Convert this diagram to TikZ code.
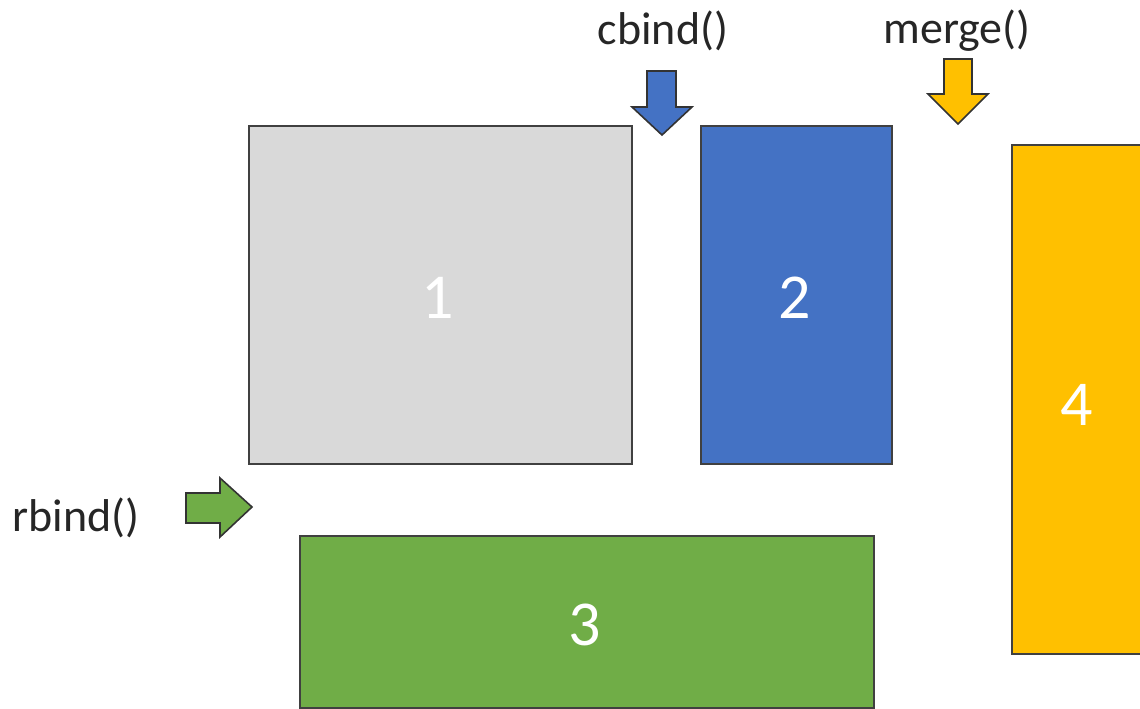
\documentclass[tikz,border=0pt]{standalone}
\usepackage{fontspec}
\setmainfont{Carlito}
\begin{document}
\begin{tikzpicture}[x=1pt,y=-1pt,
  block/.style={draw=black!75,line width=2pt,anchor=north west,inner sep=0pt},
  num/.style={text=white,font=\fontsize{64}{70}\selectfont},
  fn/.style={font=\fontsize{46}{52}\selectfont,text=black!85},
  arrowshape/.style={draw=black!80,line width=1.6pt,line join=miter}]
\clip (0,0) rectangle (1140,709);
\useasboundingbox (0,0) rectangle (1140,709);

% data blocks
\node[block,fill={rgb,255:red,217;green,217;blue,217},minimum width=383pt,minimum height=338pt] (b1) at (248,125) {};
\node[block,fill={rgb,255:red,68;green,114;blue,196},minimum width=191pt,minimum height=338pt] (b2) at (700,125) {};
\node[block,fill={rgb,255:red,112;green,173;blue,71},minimum width=574pt,minimum height=172pt] (b3) at (299,535) {};
\node[block,fill={rgb,255:red,255;green,192;blue,0},minimum width=160pt,minimum height=509pt] (b4) at (1011,144) {};

\node[num] (n1) at (438,298) {1};
\node[num] (n2) at (795,298) {2};
\node[num] (n3) at (585,625) {3};
\node[num] (n4) at (1077,405) {4};

% function labels
\node[fn] (cb) at (663,31) {cbind()};
\node[fn] (mg) at (957,31) {merge()};
\node[fn,anchor=west] (rb) at (9,518) {rbind()};

% direction arrows
\draw[arrowshape,fill={rgb,255:red,68;green,114;blue,196}]
  (647,71) -- (676,71) -- (676,107) -- (692,107) -- (662,135) -- (632,107) -- (647,107) -- cycle;
\draw[arrowshape,fill={rgb,255:red,255;green,192;blue,0}]
  (944,59) -- (972,59) -- (972,94) -- (988,94) -- (958,124) -- (928,94) -- (944,94) -- cycle;
\draw[arrowshape,fill={rgb,255:red,112;green,173;blue,71}]
  (186,493) -- (220,493) -- (220,478) -- (252,507) -- (220,537) -- (220,523) -- (186,523) -- cycle;
\end{tikzpicture}
\end{document}
